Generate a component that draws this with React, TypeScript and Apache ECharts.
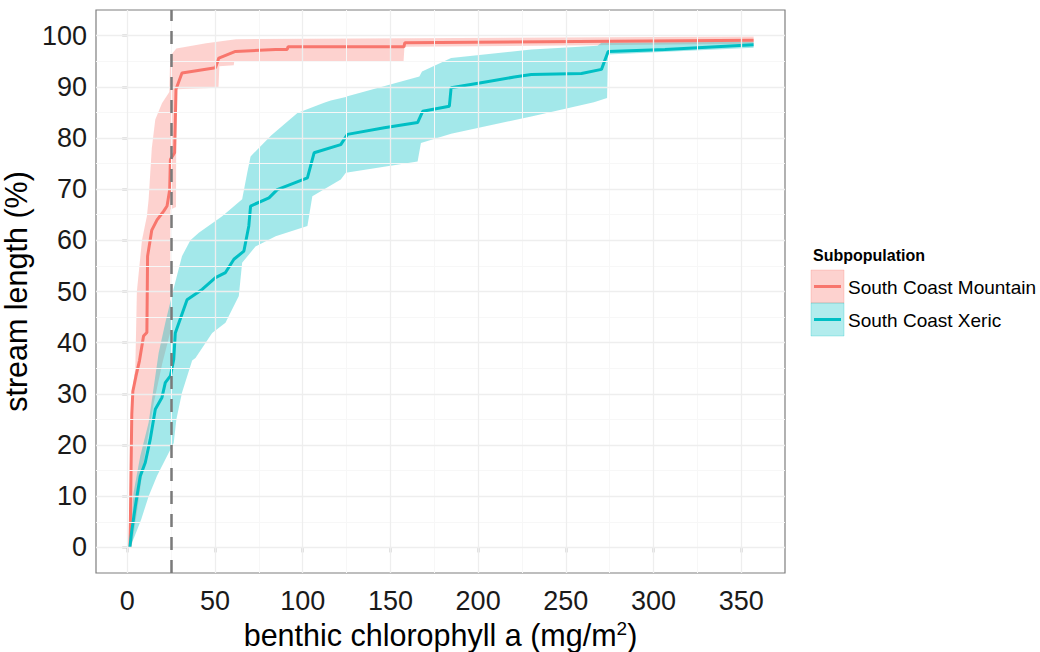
import React, { useEffect, useRef } from "react";
import * as echarts from "echarts";

// ---- axis ticks ----
const xTicks = [0, 50, 100, 150, 200, 250, 300, 350];
const yTicks = [0, 10, 20, 30, 40, 50, 60, 70, 80, 90, 100];
const xMinor = [25, 75, 125, 175, 225, 275, 325];
const yMinor = [5, 15, 25, 35, 45, 55, 65, 75, 85, 95];
const thresholdX = 25;

// ---- South Coast Mountain ----
const mountainLineX = [1.5, 1.8, 2.2, 2.6, 3.2, 5, 7, 9.3, 11.2, 11.6, 14, 17, 20.8, 22.7, 24.2, 24.6, 27, 27.8, 31.2, 50.3, 52.2, 61.7, 84.6, 91.2, 91.6, 157.7, 158.2, 357];
const mountainLineY = [0, 5, 16, 26, 30.5, 33.5, 36.5, 41.3, 42, 56.9, 62, 64, 65.7, 66.7, 69.9, 75.8, 77.1, 89.5, 92.7, 93.7, 95.6, 96.9, 97.3, 97.3, 97.8, 97.8, 98.6, 99.1];
const mountainUpperX = [1.5, 2, 2.6, 3.4, 4.6, 5.5, 8.4, 11.2, 12.2, 14, 16, 19.8, 24, 24.5, 28, 45, 62, 357];
const mountainUpperY = [5, 20, 28, 32, 35, 50, 60, 64.7, 68, 78, 83.6, 86.8, 89, 96, 97.5, 98.5, 99.3, 99.8];
const mountainLowerX = [1.5, 3, 6, 10, 15, 20, 24.5, 24.6, 27.8, 28, 52, 52.5, 60.7, 61, 157.5, 158, 357];
const mountainLowerY = [0, 1, 8, 18, 28, 36, 42, 66, 66.5, 89.5, 89.8, 94, 94.2, 95, 95, 97.8, 98.4];

// ---- South Coast Xeric ----
const xericLineX = [1.5, 2.5, 4.6, 7.4, 10.3, 13.1, 16, 19.8, 21.7, 24.6, 26.5, 27.4, 34.1, 42.7, 50.3, 56, 60.8, 66.5, 69.3, 70.3, 80.8, 85.5, 102.7, 106.5, 121.7, 125.5, 146.5, 165.5, 168.4, 183.6, 184.6, 201.7, 220.6, 230.3, 258.9, 270.3, 274.1, 306.5, 357];
const xericLineY = [0, 3, 8, 13.9, 16.6, 21.1, 27, 29.3, 32.2, 33.5, 36.7, 41.9, 48.4, 50.4, 52.7, 53.7, 56.3, 57.9, 62.8, 66.7, 68.3, 69.9, 72.2, 77.1, 78.7, 80.7, 82, 83, 85.2, 86.2, 89.8, 90.8, 91.9, 92.4, 92.6, 93.4, 96.9, 97.3, 98.2];
const xericUpperX = [1.5, 3.6, 7.4, 12.2, 17.9, 21.7, 26, 31.2, 36, 40.8, 54.1, 65.5, 68.4, 70.3, 82, 97, 112.2, 116, 124.6, 125, 166.5, 168, 184.6, 230.3, 268, 270.3, 357];
const xericUpperY = [0, 10.7, 17.8, 24.4, 38, 43.9, 50, 56.9, 60, 61.5, 64.7, 68, 73.2, 76.4, 80.5, 84.9, 86.9, 87.3, 88, 88.1, 92, 93, 95.6, 97.3, 98, 98.6, 98.8];
const xericLowerX = [1.5, 4, 8, 12.2, 17, 21.7, 26.5, 28, 31.2, 37, 38.9, 48.4, 56, 63.6, 65.5, 73.1, 84.6, 102.7, 105.5, 121.7, 124.6, 165.5, 167.4, 184.6, 230.3, 266, 273.5, 274, 357];
const xericLowerY = [0, 2, 5.5, 10, 14, 17.2, 20.4, 25, 30.2, 36.5, 37, 41.9, 43.9, 49.1, 55.6, 58.8, 60.8, 62.8, 68.6, 71.9, 73.2, 75.4, 79, 80.8, 84.2, 87, 87.8, 96.3, 97.6];

const seriesNames = ["South Coast Mountain", "South Coast Xeric"];
const RED = "#F8766D";
const TEAL = "#00BFC4";
const FONT = "'Liberation Sans', Arial, Helvetica, sans-serif";

const zip = (xs: number[], ys: number[]) => xs.map((x, i) => [x, ys[i]]);

function bandSeries(name: string, ux: number[], uy: number[], lx: number[], ly: number[], fill: string, z: number) {
  const pts: number[][] = zip(ux, uy);
  for (let i = lx.length - 1; i >= 0; i--) pts.push([lx[i], ly[i]]);
  return {
    type: "custom",
    name,
    z,
    silent: true,
    data: pts,
    encode: { x: 0, y: 1 },
    renderItem: (params: any, api: any) => {
      if (params.dataIndexInside !== 0) return null;
      const points = pts.map((p) => api.coord(p));
      return { type: "polygon", shape: { points }, style: { fill } };
    },
  };
}

export default function App() {
  const ref = useRef<HTMLDivElement>(null);
  useEffect(() => {
    document.body.style.margin = "0";
    const chart = echarts.init(ref.current!, null, { renderer: "svg" });
    const gridLines: any[] = [];
    const minorStyle = { color: "#f7f7f7", width: 1, type: "solid" };
    const majorStyle = { color: "#eeeeee", width: 1.3, type: "solid" };
    xMinor.forEach((v) => gridLines.push({ xAxis: v, lineStyle: minorStyle }));
    yMinor.forEach((v) => gridLines.push({ yAxis: v, lineStyle: minorStyle }));
    xTicks.forEach((v) => gridLines.push({ xAxis: v, lineStyle: majorStyle }));
    yTicks.forEach((v) => gridLines.push({ yAxis: v, lineStyle: majorStyle }));

    const option: any = {
      animation: false,
      backgroundColor: "#ffffff",
      textStyle: { fontFamily: FONT },
      grid: {
        left: 96, top: 10, width: 689, height: 563,
        show: true, borderColor: "#7f7f7f", borderWidth: 1.2, backgroundColor: "#ffffff",
        containLabel: false, outerBoundsMode: "none",
      },
      xAxis: {
        type: "value", min: -17.8, max: 374.9,
        splitLine: { show: false }, axisLine: { show: false },
        axisTick: { show: true, customValues: xTicks, length: 5, lineStyle: { color: "#333", width: 1.3 } },
        axisLabel: { customValues: xTicks, fontSize: 27, color: "#1a1a1a", margin: 14, fontFamily: FONT },
        name: "benthic chlorophyll a (mg/m{sup|2})",
        nameLocation: "middle", nameGap: 39,
        nameTextStyle: {
          fontSize: 30.5, color: "#000", fontFamily: FONT, lineHeight: 32,
          rich: { sup: { fontSize: 19, lineHeight: 19, padding: [0, 0, 13, 0], fontFamily: FONT, color: "#000" } },
        },
      },
      yAxis: {
        type: "value", min: -5, max: 105,
        splitLine: { show: false }, axisLine: { show: false },
        axisTick: { show: true, customValues: yTicks, length: 5, lineStyle: { color: "#333", width: 1.3 } },
        axisLabel: { customValues: yTicks, fontSize: 27, color: "#1a1a1a", margin: 9, fontFamily: FONT },
        name: "stream length (%)",
        nameLocation: "middle", nameGap: 53, nameRotate: 90,
        nameTextStyle: { fontSize: 30.5, color: "#000", fontFamily: FONT },
      },
      series: [
        {
          type: "line", data: [], z: 1, silent: true,
          markLine: { silent: true, symbol: ["none", "none"], label: { show: false }, lineStyle: { type: "solid" }, data: gridLines },
        },
        bandSeries(seriesNames[0], mountainUpperX, mountainUpperY, mountainLowerX, mountainLowerY, "rgba(248,118,109,0.33)", 2),
        bandSeries(seriesNames[1], xericUpperX, xericUpperY, xericLowerX, xericLowerY, "rgba(0,191,196,0.36)", 2),
        {
          type: "line", data: [], z: 3, silent: true,
          markLine: {
            silent: true, symbol: ["none", "none"], label: { show: false },
            lineStyle: { color: "#7a7a7a", width: 2.5, type: [13, 10] },
            data: [{ xAxis: thresholdX }],
          },
        },
        {
          type: "line", name: seriesNames[0], data: zip(mountainLineX, mountainLineY), z: 4,
          showSymbol: false, symbol: "none", silent: true, lineStyle: { color: RED, width: 3 },
        },
        {
          type: "line", name: seriesNames[1], data: zip(xericLineX, xericLineY), z: 4,
          showSymbol: false, symbol: "none", silent: true, lineStyle: { color: TEAL, width: 3 },
        },
      ],
      graphic: [
        { type: "text", left: 813, top: 247, style: { text: "Subpopulation", fontSize: 16, fontWeight: "bold", fill: "#000", fontFamily: FONT } },
        { type: "rect", shape: { x: 811, y: 270, width: 33, height: 33 }, style: { fill: "rgba(248,118,109,0.33)", stroke: "rgba(248,118,109,0.25)", lineWidth: 1 } },
        { type: "line", shape: { x1: 814, y1: 286.5, x2: 841, y2: 286.5 }, style: { stroke: RED, lineWidth: 3 } },
        { type: "rect", shape: { x: 811, y: 303, width: 33, height: 33 }, style: { fill: "rgba(0,191,196,0.3)", stroke: "rgba(0,191,196,0.25)", lineWidth: 1 } },
        { type: "line", shape: { x1: 814, y1: 319.5, x2: 841, y2: 319.5 }, style: { stroke: TEAL, lineWidth: 3 } },
        { type: "text", left: 848, top: 278, style: { text: seriesNames[0], fontSize: 19, fill: "#000", fontFamily: FONT } },
        { type: "text", left: 848, top: 311, style: { text: seriesNames[1], fontSize: 19, fill: "#000", fontFamily: FONT } },
      ],
    };
    chart.setOption(option);
    return () => chart.dispose();
  }, []);
  return <div ref={ref} style={{ width: 1040, height: 652 }} />;
}
